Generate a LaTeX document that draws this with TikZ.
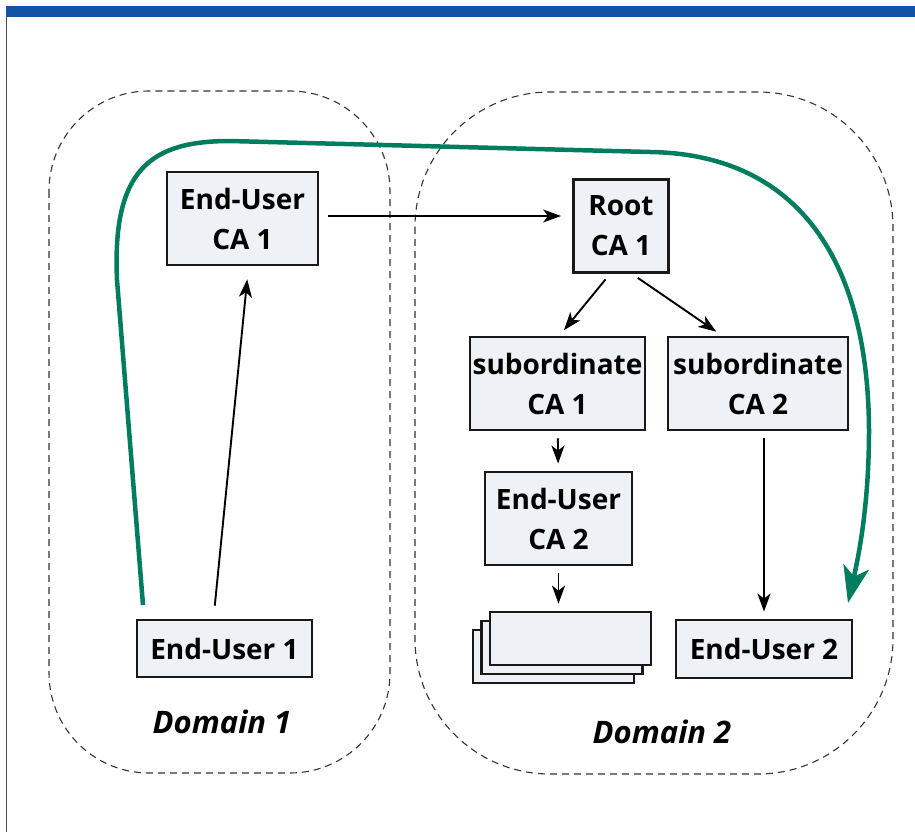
\documentclass[tikz,border=0pt]{standalone}
\usepackage{fontspec}
\setmainfont{Open Sans}
\usetikzlibrary{arrows.meta}
\definecolor{boxfill}{RGB}{238,241,245}
\definecolor{pathgreen}{RGB}{0,125,95}
\definecolor{barblue}{RGB}{20,82,165}

\begin{document}
\begin{tikzpicture}[x=1pt,y=-1pt]
\tikzset{CA/.style={draw=black!90,line width=2.8pt,fill=boxfill,align=center,inner sep=0pt,font=\fontsize{28}{40}\selectfont\bfseries}}
\tikzset{SHEET/.style={CA,minimum width=161pt,minimum height=53pt}}
\tikzset{DOMAIN/.style={draw=black!80,line width=1.1pt,dash pattern=on 7pt off 5pt}}
\tikzset{DOMAIN LABEL/.style={font=\fontsize{31}{36}\selectfont\bfseries\itshape}}

\tikzset{CERTIFIES/.style={draw,line width=1.9pt,-{Stealth[length=18pt,width=13pt,inset=5pt]},shorten <=7pt,shorten >=7pt}}
\tikzset{TRUST PATH/.style={draw=pathgreen,line width=4.5pt,-{Stealth[length=37pt,width=26pt,inset=10pt]}}}

\useasboundingbox (0,0) rectangle (915,832);
\fill[barblue] (6,6) rectangle (915,17);
\draw[black!70,line width=1pt] (6,17) -- (6,832);

\draw[DOMAIN,rounded corners=100pt] (49,91) rectangle (390,773);
\draw[DOMAIN,rounded corners=135pt] (415,92) rectangle (893,774);
\node[DOMAIN LABEL] (domain one) at (222,722) {Domain 1};
\node[DOMAIN LABEL] (domain two) at (662,732) {Domain 2};

\node[CA,minimum width=151pt,minimum height=93pt] (eu ca one) at (242.5,218.5) {End-User\\CA 1};
\node[CA,minimum width=95pt,minimum height=93pt] (root ca) at (621,226) {Root\\CA 1};
\node[CA,minimum width=175pt,minimum height=93pt] (sub ca one) at (557.5,383.5) {subordinate\\CA 1};
\node[CA,minimum width=180pt,minimum height=93pt] (sub ca two) at (758,383.5) {subordinate\\CA 2};
\node[CA,minimum width=147pt,minimum height=93pt] (eu ca two) at (558.5,518.5) {End-User\\CA 2};
\node[SHEET] (sheet back) at (553.5,656.5) {};
\node[SHEET] (sheet middle) at (562,647.5) {};
\node[SHEET] (sheet front) at (570.5,638.5) {};
\node[CA,minimum width=175pt,minimum height=57pt] (eu one) at (224.5,648.5) {End-User 1};
\node[CA,minimum width=176pt,minimum height=58pt] (eu two) at (764,649) {End-User 2};

\coordinate (trust start) at (143,605);
\coordinate (trust end) at (848,603);

\path [CERTIFIES,shorten <=13pt,shorten >=13pt] ([xshift=-11pt]eu one.north) -- ([xshift=6pt]eu ca one.south);
\path [CERTIFIES,shorten <=9pt,shorten >=11pt] ([yshift=2.5pt]eu ca one.east) -- ([yshift=2.5pt]eu ca one.east -| root ca.west);
\path [CERTIFIES] ([xshift=-11pt]root ca.south) -- ([xshift=2pt]sub ca one.north);
\path [CERTIFIES] ([xshift=11pt]root ca.south) -- ([xshift=-36pt]sub ca two.north);
\path [CERTIFIES] (sub ca one) -- (eu ca two);
\path [CERTIFIES] (eu ca two) -- (eu ca two |- sheet front.north);
\path [CERTIFIES] (sub ca two.south -| eu two) -- (eu two);

\path [TRUST PATH] (trust start) -- (117,280) .. controls (112,170) and (150,141) .. (230,141)
  -- (650,152) .. controls (790,154) and (868,250) .. (869,430)
  .. controls (869,500) and (860,550) .. (trust end);

\end{tikzpicture}
\end{document}
